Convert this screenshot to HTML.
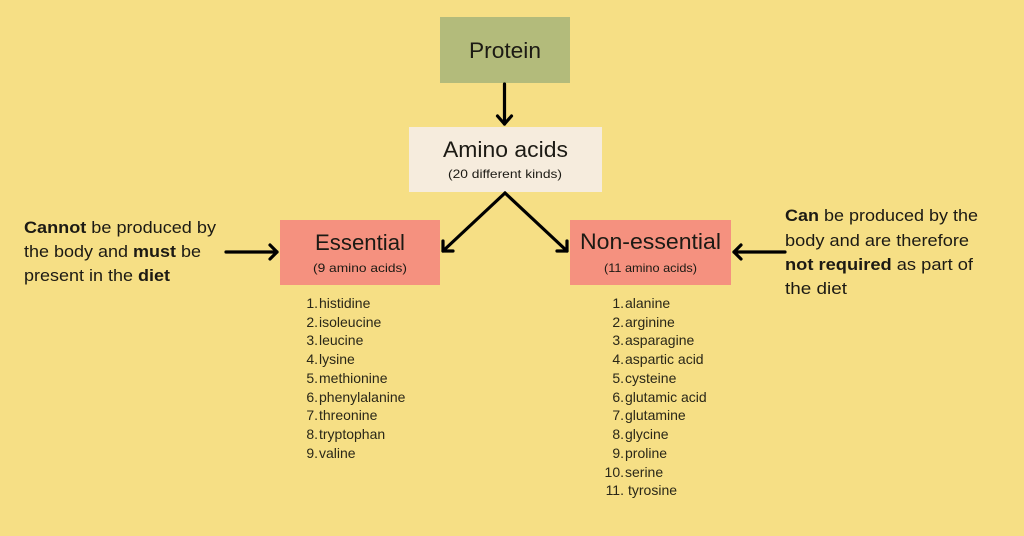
<!DOCTYPE html>
<html><head><meta charset="utf-8"><style>
html,body{margin:0;padding:0;background:#f6df85;}
svg{display:block;}
text{font-family:"Liberation Sans",sans-serif;fill:#1c1a14;}
.t{font-size:22px;}
.s{font-size:12px;}
.p{font-size:17px;}
.l{font-size:14px;fill:#2a2718;}
</style></head><body>
<svg width="1024" height="536" viewBox="0 0 1024 536" xmlns="http://www.w3.org/2000/svg">
<rect x="0" y="0" width="1024" height="536" fill="#f6df85"/>
<!-- boxes -->
<rect x="440" y="17" width="130" height="66" fill="#b3bb7b"/>
<rect x="409" y="127" width="193" height="65" fill="#f6ecdd"/>
<rect x="280" y="220" width="160" height="65" fill="#f5917f"/>
<rect x="570" y="220" width="161" height="65" fill="#f5917f"/>
<!-- arrows -->
<g stroke="#000" stroke-width="3.2" fill="none" stroke-linecap="round" stroke-linejoin="round">
<line x1="504.5" y1="84" x2="504.5" y2="124"/>
<polyline points="497.5,116 504.5,124 511.5,116"/>
<line x1="505" y1="193" x2="443" y2="251"/>
<polyline points="443,241 443,251 453,251"/>
<line x1="505" y1="193" x2="567" y2="251"/>
<polyline points="567,241 567,251 557,251"/>
<line x1="226" y1="252" x2="277" y2="252"/>
<polyline points="270,245 277,252 270,259"/>
<line x1="785" y1="252" x2="734" y2="252"/>
<polyline points="741,245 734,252 741,259"/>
</g>
<!-- box text -->
<text class="t" x="505" y="58" text-anchor="middle" textLength="72" lengthAdjust="spacingAndGlyphs">Protein</text>
<text class="t" x="505.5" y="157" text-anchor="middle" textLength="125" lengthAdjust="spacingAndGlyphs">Amino acids</text>
<text class="s" x="505" y="178" text-anchor="middle" textLength="114" lengthAdjust="spacingAndGlyphs">(20 different kinds)</text>
<text class="t" x="360" y="250" text-anchor="middle" textLength="90" lengthAdjust="spacingAndGlyphs">Essential</text>
<text class="s" x="360" y="272" text-anchor="middle" textLength="94" lengthAdjust="spacingAndGlyphs">(9 amino acids)</text>
<text class="t" x="650.5" y="249" text-anchor="middle" textLength="141" lengthAdjust="spacingAndGlyphs">Non-essential</text>
<text class="s" x="650.5" y="272" text-anchor="middle" textLength="93" lengthAdjust="spacingAndGlyphs">(11 amino acids)</text>
<!-- left paragraph -->
<text class="p" x="24" y="233" textLength="192" lengthAdjust="spacingAndGlyphs"><tspan font-weight="bold">Cannot</tspan> be produced by</text>
<text class="p" x="24" y="257" textLength="177" lengthAdjust="spacingAndGlyphs">the body and <tspan font-weight="bold">must</tspan> be</text>
<text class="p" x="24" y="281" textLength="146" lengthAdjust="spacingAndGlyphs">present in the <tspan font-weight="bold">diet</tspan></text>
<!-- right paragraph -->
<text class="p" x="785" y="221" textLength="193" lengthAdjust="spacingAndGlyphs"><tspan font-weight="bold">Can</tspan> be produced by the</text>
<text class="p" x="785" y="246" textLength="184" lengthAdjust="spacingAndGlyphs">body and are therefore</text>
<text class="p" x="785" y="270" textLength="188" lengthAdjust="spacingAndGlyphs"><tspan font-weight="bold">not required</tspan> as part of</text>
<text class="p" x="785" y="294" textLength="62" lengthAdjust="spacingAndGlyphs">the diet</text>
<!-- essential list -->
<g>
<text class="l" x="318" y="308" text-anchor="end">1.</text><text class="l" x="319" y="308">histidine</text>
<text class="l" x="318" y="327" text-anchor="end">2.</text><text class="l" x="319" y="327">isoleucine</text>
<text class="l" x="318" y="345" text-anchor="end">3.</text><text class="l" x="319" y="345">leucine</text>
<text class="l" x="318" y="364" text-anchor="end">4.</text><text class="l" x="319" y="364">lysine</text>
<text class="l" x="318" y="383" text-anchor="end">5.</text><text class="l" x="319" y="383">methionine</text>
<text class="l" x="318" y="402" text-anchor="end">6.</text><text class="l" x="319" y="402">phenylalanine</text>
<text class="l" x="318" y="420" text-anchor="end">7.</text><text class="l" x="319" y="420">threonine</text>
<text class="l" x="318" y="439" text-anchor="end">8.</text><text class="l" x="319" y="439">tryptophan</text>
<text class="l" x="318" y="458" text-anchor="end">9.</text><text class="l" x="319" y="458">valine</text>
</g>
<!-- non-essential list -->
<g>
<text class="l" x="624" y="308" text-anchor="end">1.</text><text class="l" x="625" y="308">alanine</text>
<text class="l" x="624" y="327" text-anchor="end">2.</text><text class="l" x="625" y="327">arginine</text>
<text class="l" x="624" y="345" text-anchor="end">3.</text><text class="l" x="625" y="345">asparagine</text>
<text class="l" x="624" y="364" text-anchor="end">4.</text><text class="l" x="625" y="364">aspartic acid</text>
<text class="l" x="624" y="383" text-anchor="end">5.</text><text class="l" x="625" y="383">cysteine</text>
<text class="l" x="624" y="402" text-anchor="end">6.</text><text class="l" x="625" y="402">glutamic acid</text>
<text class="l" x="624" y="420" text-anchor="end">7.</text><text class="l" x="625" y="420">glutamine</text>
<text class="l" x="624" y="439" text-anchor="end">8.</text><text class="l" x="625" y="439">glycine</text>
<text class="l" x="624" y="458" text-anchor="end">9.</text><text class="l" x="625" y="458">proline</text>
<text class="l" x="624" y="477" text-anchor="end">10.</text><text class="l" x="625" y="477">serine</text>
<text class="l" x="624" y="495" text-anchor="end">11.</text><text class="l" x="628" y="495">tyrosine</text>
</g>
</svg>
</body></html>
